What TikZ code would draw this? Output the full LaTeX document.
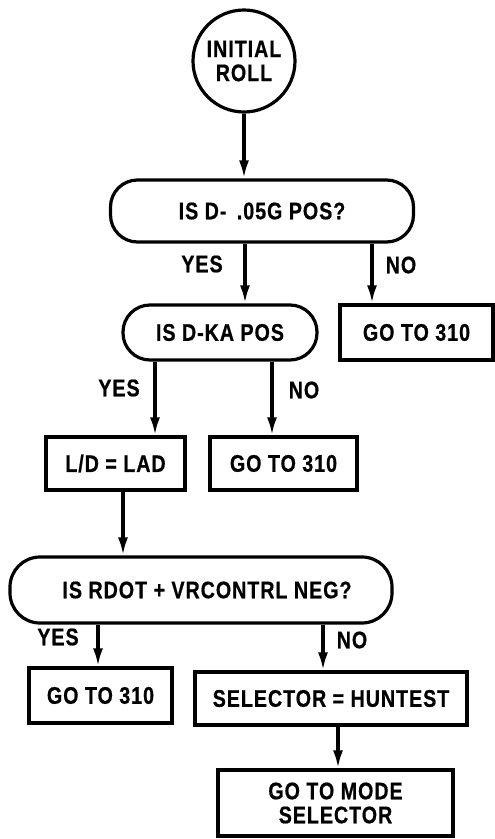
\documentclass[tikz,border=0pt]{standalone}
\usepackage{fontspec}
\setmainfont{Liberation Sans}[BoldFeatures={FakeStretch=0.82,FakeBold=0.6,LetterSpace=4}]
\usetikzlibrary{arrows.meta}
\begin{document}
\begin{tikzpicture}[x=1pt,y=-1pt,
  every node/.style={font=\fontsize{24}{24}\selectfont\bfseries, inner sep=0pt, align=center},
  procbox/.style={draw, line width=3.2pt, rectangle},
  decision/.style={draw, line width=3.2pt, rectangle, rounded corners=27pt},
  startnode/.style={draw, line width=3.2pt, circle, minimum size=102pt},
  arr/.style={line width=3.2pt, -{Latex[length=18pt,width=10pt]}},
  lbl/.style={}]
\useasboundingbox (0,0) rectangle (495,839);

\node[startnode] (roll) at (244,61) {INITIAL\\ROLL};
\node[decision, minimum width=303pt, minimum height=62pt] (s1) at (262,211) {IS D- \,.05G POS?};
\node[decision, minimum width=194pt, minimum height=55pt] (s2) at (220,332.5) {IS D-KA POS};
\node[procbox, minimum width=153pt, minimum height=55pt] (g1) at (416.5,332.5) {GO TO 310};
\node[procbox, minimum width=139pt, minimum height=53pt] (ld) at (115.5,463.5) {L/D = LAD};
\node[procbox, minimum width=147pt, minimum height=53pt] (g2) at (283.5,463.5) {GO TO 310};
\node[decision, minimum width=382pt, minimum height=66pt, rounded corners=30pt] (s3) at (201,590) {\hspace{12pt}IS RDOT + VRCONTRL NEG?};
\node[procbox, minimum width=143pt, minimum height=55pt] (g3) at (100.5,695.5) {GO TO 310};
\node[procbox, minimum width=272pt, minimum height=53pt] (sel) at (331,698.5) {SELECTOR = HUNTEST};
\node[procbox, minimum width=235pt, minimum height=66pt] (mode) at (335.5,803) {GO TO MODE\\SELECTOR};

\draw[arr] (roll.south) -- (roll.south |- s1.north);
\draw[arr] ([xshift=25pt]s2.north |- s1.south) -- ([xshift=25pt]s2.north);
\draw[arr] ([xshift=-44.5pt]g1.north |- s1.south) -- ([xshift=-44.5pt]g1.north);
\draw[arr] ([xshift=39.5pt]ld.north |- s2.south) -- ([xshift=39.5pt]ld.north);
\draw[arr] ([xshift=-11.5pt]g2.north |- s2.south) -- ([xshift=-11.5pt]g2.north);
\draw[arr] ([xshift=7.5pt]ld.south) -- ([xshift=7.5pt]ld.south |- s3.north);
\draw[arr] ([xshift=-2.5pt]g3.north |- s3.south) -- ([xshift=-2.5pt]g3.north);
\draw[arr] ([xshift=-8pt]sel.north |- s3.south) -- ([xshift=-8pt]sel.north);
\draw[arr] ([xshift=7pt]sel.south) -- ([xshift=7pt]sel.south |- mode.north);

\node[lbl] (y1) at (202,264) {YES};
\node[lbl] (n1) at (401,265) {NO};
\node[lbl] (y2) at (119,388) {YES};
\node[lbl] (n2) at (304,390) {NO};
\node[lbl] (y3) at (58,637) {YES};
\node[lbl] (n3) at (352,640) {NO};
\end{tikzpicture}
\end{document}
